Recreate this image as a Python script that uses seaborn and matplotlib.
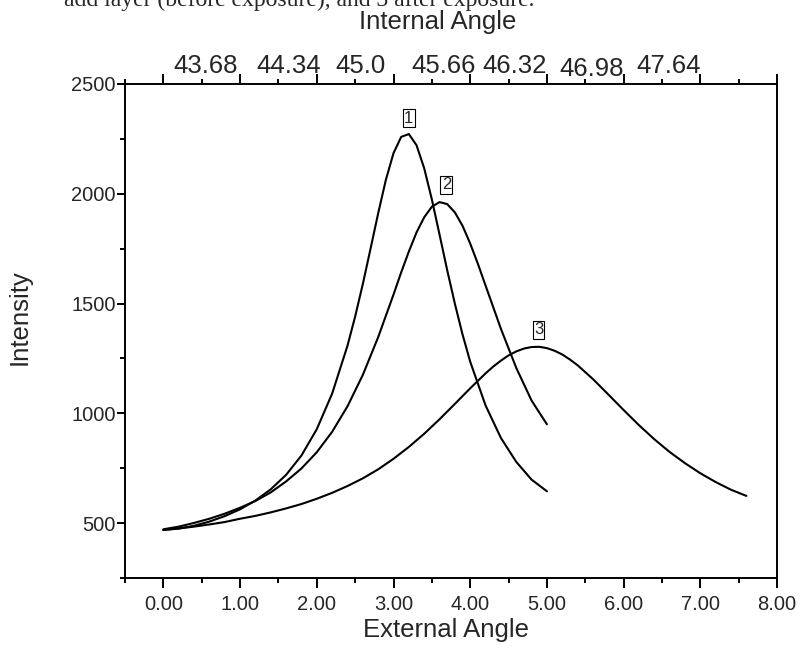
import numpy as np
import pandas as pd
import matplotlib
matplotlib.use("Agg")
import matplotlib.pyplot as plt
from matplotlib.transforms import ScaledTranslation
import seaborn as sns

# ---------------- data ----------------
x1 = [0.0, 0.2, 0.4, 0.6, 0.8, 1.0, 1.2, 1.4, 1.6, 1.8, 2.0, 2.2, 2.4, 2.5,
      2.6, 2.7, 2.8, 2.9, 3.0, 3.1, 3.2, 3.3, 3.4, 3.5, 3.6, 3.7, 3.8, 3.9,
      4.0, 4.2, 4.4, 4.6, 4.8, 5.0]
curve1 = [469, 475, 488, 507, 532, 563, 603, 654, 720, 808, 928, 1090, 1308, 1441,
          1589, 1749, 1911, 2063, 2185, 2259, 2272, 2221, 2116, 1974, 1814, 1652, 1499, 1359,
          1235, 1036, 888, 779, 698, 645]
x2 = [0.0, 0.2, 0.4, 0.6, 0.8, 1.0, 1.2, 1.4, 1.6, 1.8, 2.0, 2.2, 2.4, 2.6,
      2.8, 3.0, 3.1, 3.2, 3.3, 3.4, 3.5, 3.6, 3.7, 3.8, 3.9, 4.0, 4.1, 4.2,
      4.4, 4.6, 4.8, 5.0]
curve2 = [472, 484, 501, 520, 543, 570, 601, 640, 690, 749, 823, 916, 1032, 1175,
          1347, 1541, 1642, 1737, 1824, 1893, 1941, 1962, 1953, 1915, 1854, 1773, 1681, 1582,
          1385, 1207, 1058, 950]
x3 = [0.0, 0.2, 0.4, 0.6, 0.8, 1.0, 1.2, 1.4, 1.6, 1.8, 2.0, 2.2, 2.4, 2.6,
      2.8, 3.0, 3.2, 3.4, 3.6, 3.8, 4.0, 4.2, 4.3, 4.4, 4.5, 4.6, 4.7, 4.8,
      4.9, 5.0, 5.1, 5.2, 5.3, 5.4, 5.6, 5.8, 6.0, 6.2, 6.4, 6.6, 6.8, 7.0,
      7.2, 7.4, 7.6]
curve3 = [469, 476, 484, 494, 505, 520, 533, 549, 567, 587, 611, 638, 669, 704,
          745, 793, 847, 907, 973, 1043, 1114, 1182, 1213, 1240, 1264, 1282, 1295, 1302,
          1303, 1297, 1285, 1268, 1245, 1219, 1156, 1086, 1015, 946, 882, 824, 773, 727,
          687, 652, 624]

peak_names = ["1", "2", "3"]
peak_label_x = [3.20, 3.69, 4.89]
peak_label_y = [2345, 2040, 1380]

external_ticks = [0, 1, 2, 3, 4, 5, 6, 7, 8]
external_labels = ["0.00", "1.00", "2.00", "3.00", "4.00", "5.00", "6.00", "7.00", "8.00"]
external_minor = [-0.5, 0.5, 1.5, 2.5, 3.5, 4.5, 5.5, 6.5, 7.5]
internal_pos = [0.55, 1.63, 2.57, 3.65, 4.58, 5.58, 6.58]
internal_labels = ["43.68", "44.34", "45.0", "45.66", "46.32", "46.98", "47.64"]
intensity_ticks = [500, 1000, 1500, 2000, 2500]
intensity_minor = [250, 750, 1250, 1750, 2250]

caption = "add layer (before exposure), and 3 after exposure."

# ---------------- build table ----------------
df = pd.concat([
    pd.DataFrame({"External Angle": x1, "Intensity": curve1, "curve": "1"}),
    pd.DataFrame({"External Angle": x2, "Intensity": curve2, "curve": "2"}),
    pd.DataFrame({"External Angle": x3, "Intensity": curve3, "curve": "3"}),
], ignore_index=True)

sns.set_style("ticks")
plt.rcParams["font.family"] = ["Liberation Sans", "DejaVu Sans"]

fig = plt.figure(figsize=(8.03, 6.51), dpi=100)
ax = fig.add_axes([0.1557, 0.1121, 0.8120, 0.7589])

sns.lineplot(data=df, x="External Angle", y="Intensity", hue="curve",
             palette=["black"] * 3, legend=False, sort=False, estimator=None,
             linewidth=1.5, ax=ax)
for ln in ax.get_lines():
    ln.set_solid_joinstyle("round")

ax.set_xlim(-0.5, 8.0)
ax.set_ylim(250, 2500)

for s in ax.spines.values():
    s.set_linewidth(1.4)
    s.set_color("black")

# top axis with internal-angle labels
ax2 = ax.twiny()
ax2.set_xlim(ax.get_xlim())
ax2.set_xticks(internal_pos, internal_labels)
ax2.tick_params(axis="x", length=0, pad=4, labelsize=18.5)
for s in ax2.spines.values():
    s.set_visible(False)
ax2.set_xlabel("Internal Angle", fontsize=18.5)
ax2.xaxis.set_label_coords(0.480, 1.1255)
ax2.xaxis.label.set_va("center")
lbl = ax2.get_xticklabels()[5]
lbl.set_transform(lbl.get_transform() + ScaledTranslation(0, -0.03, fig.dpi_scale_trans))

ax.set_xticks(external_ticks, external_labels)
ax.set_xticks(external_minor, minor=True)
ax.set_yticks(intensity_ticks, [str(v) for v in intensity_ticks])
ax.set_yticks(intensity_minor, minor=True)
ax.tick_params(axis="x", which="both", direction="out", bottom=True, top=True,
               labelbottom=True, labeltop=False, width=1.4, color="black")
ax.tick_params(axis="x", which="major", length=7.2, pad=5, labelsize=14.5)
ax.tick_params(axis="x", which="minor", length=3.6)
ax.tick_params(axis="y", which="both", direction="out", left=True, right=False,
               width=1.4, color="black")
ax.tick_params(axis="y", which="major", length=5.8, pad=1, labelsize=14.5)
ax.tick_params(axis="y", which="minor", length=3.6)

ax.set_xlabel("External Angle", fontsize=18.5)
ax.xaxis.set_label_coords(0.4923, -0.1053)
ax.xaxis.label.set_va("center")
ax.set_ylabel("Intensity", fontsize=18.5)
ax.yaxis.set_label_coords(-0.161, 0.5283)
ax.yaxis.label.set_va("center")

for name, lx, ly in zip(peak_names, peak_label_x, peak_label_y):
    ax.text(lx, ly, name, ha="center", va="center", fontsize=12,
            bbox=dict(boxstyle="square,pad=0.08", fc="white", ec="black", lw=0.8))

# clipped caption text at the very top
fig.text(64 / 803, 1 - 6 / 651, caption,
         family=["Liberation Serif", "DejaVu Serif"], fontsize=17,
         ha="left", va="baseline")

fig.savefig("out.png", dpi=100)
